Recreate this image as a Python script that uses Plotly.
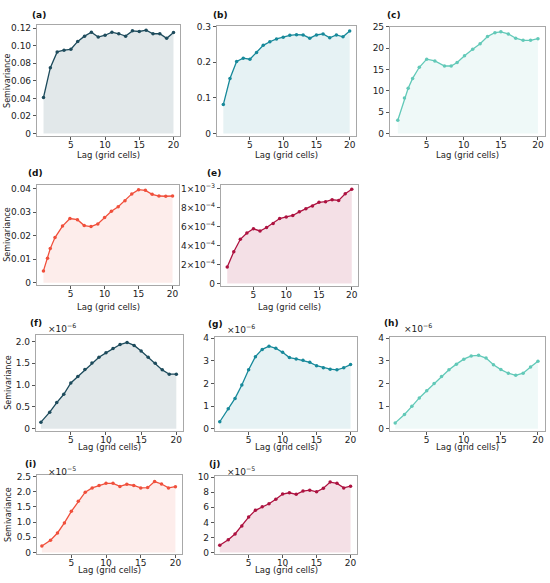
import plotly.graph_objects as go

W, H = 550, 583

# lags (grid cells)
lag = [1, 2, 3, 4, 5, 6, 7, 8, 9, 10, 11, 12, 13, 14, 15, 16, 17, 18, 19, 20]
lag_c = [1.1, 2.0, 2.5, 3.1, 4.0, 5.0, 6.1, 7.4, 8.3, 9.1, 10.1, 11.2, 12.2, 13.2, 14.2, 15.0, 16.0, 17.0, 18.0, 19.0, 20.0]
lag_d = [1.0, 1.6, 2.0, 2.7, 3.8, 4.9, 6.0, 7.0, 8.0, 9.0, 10.0, 11.0, 12.0, 13.0, 14.0, 15.0, 16.0, 17.0, 18.0, 19.0, 20.0]
lag_b = [0.75, 2, 3, 4, 5, 6, 7, 8, 9, 10, 11, 12, 13, 14, 15, 16, 17, 18, 19, 20]

# semivariance values
a_vals = [0.041, 0.075, 0.093, 0.095, 0.096, 0.105, 0.111, 0.1155, 0.110, 0.112,
          0.1155, 0.1137, 0.111, 0.117, 0.1163, 0.1178, 0.1137, 0.1137, 0.1085, 0.115]
b_vals = [0.081, 0.154, 0.202, 0.211, 0.208, 0.227, 0.247, 0.257, 0.265, 0.270,
          0.275, 0.277, 0.276, 0.267, 0.276, 0.279, 0.268, 0.276, 0.271, 0.287]
c_vals = [3.1, 8.3, 10.6, 12.9, 15.5, 17.4, 17.0, 15.8, 15.8, 16.6, 18.2,
          19.7, 21.0, 22.7, 23.6, 23.8, 23.3, 22.3, 21.8, 21.8, 22.2]
d_vals = [0.0050, 0.0104, 0.0145, 0.0192, 0.0241, 0.0273, 0.0268, 0.0243, 0.0239, 0.0250, 0.0277,
          0.0304, 0.0323, 0.0349, 0.0378, 0.0396, 0.0393, 0.0376, 0.0369, 0.0368, 0.0369]
e_vals = [1.75e-4, 3.37e-4, 4.68e-4, 5.35e-4, 5.79e-4, 5.56e-4, 5.93e-4, 6.36e-4, 6.87e-4, 7.04e-4,
          7.20e-4, 7.58e-4, 7.91e-4, 8.20e-4, 8.59e-4, 8.65e-4, 8.86e-4, 8.79e-4, 9.50e-4, 9.97e-4]
f_vals = [0.15, 0.38, 0.60, 0.79, 1.05, 1.20, 1.36, 1.51, 1.64, 1.74,
          1.84, 1.93, 1.98, 1.91, 1.78, 1.64, 1.50, 1.35, 1.25, 1.25]  # x1e-6
g_vals = [0.31, 0.88, 1.34, 1.93, 2.60, 3.18, 3.50, 3.64, 3.55, 3.37,
          3.14, 3.08, 3.02, 2.93, 2.78, 2.69, 2.63, 2.60, 2.69, 2.83]  # x1e-6
h_vals = [0.26, 0.63, 0.99, 1.36, 1.68, 2.00, 2.30, 2.60, 2.85, 3.07,
          3.21, 3.24, 3.12, 2.82, 2.61, 2.45, 2.36, 2.45, 2.72, 2.98]  # x1e-6
i_vals = [0.21, 0.40, 0.64, 0.97, 1.35, 1.68, 1.98, 2.12, 2.20, 2.27,
          2.27, 2.17, 2.24, 2.20, 2.12, 2.13, 2.33, 2.25, 2.12, 2.16]  # x1e-5
j_vals = [0.95, 1.68, 2.46, 3.53, 4.70, 5.60, 6.08, 6.47, 7.07, 7.76,
          7.93, 7.72, 8.15, 8.28, 8.06, 8.53, 9.35, 9.18, 8.58, 8.80]  # x1e-5

x_ticks = [5, 10, 15, 20]

navy = ('#1d4b5c', 'rgba(29,75,92,0.13)')
teal = ('#17899a', 'rgba(23,137,154,0.11)')
mint = ('#62c9b8', 'rgba(98,201,184,0.10)')
coral = ('#f0503c', 'rgba(240,80,60,0.10)')
wine = ('#ad1240', 'rgba(173,18,64,0.13)')

def sup(s):
    return '<sup>' + s + '</sup>'

# name, x, y, colours, (left, top, right, bottom) px, y ticks, tick text, y top, exponent label
panels = [
    ('a', lag, a_vals, navy, (37, 20, 180, 133), [0, 0.02, 0.04, 0.06, 0.08, 0.10, 0.12],
     ['0', '0.02', '0.04', '0.06', '0.08', '0.10', '0.12'], 0.124, None),
    ('b', lag, b_vals, teal, (217, 21, 356, 133), [0, 0.1, 0.2, 0.3],
     ['0', '0.1', '0.2', '0.3'], 0.302, None),
    ('c', lag_c, c_vals, mint, (390, 22, 545, 133), [0, 5, 10, 15, 20, 25],
     ['0', '5', '10', '15', '20', '25'], 25.0, None),
    ('d', lag_d, d_vals, coral, (37, 182, 179, 284), [0, 0.01, 0.02, 0.03, 0.04],
     ['0', '0.01', '0.02', '0.03', '0.04'], 0.0418, None),
    ('e', lag, e_vals, wine, (221, 182, 358, 285), [0, 2e-4, 4e-4, 6e-4, 8e-4, 1e-3],
     ['0', '2×10' + sup('−4'), '4×10' + sup('−4'), '6×10' + sup('−4'), '8×10' + sup('−4'), '1×10' + sup('−3')],
     1.047e-3, None),
    ('f', lag_b, f_vals, navy, (36, 335, 183, 432), [0, 0.5, 1.0, 1.5, 2.0],
     ['0', '0.5', '1.0', '1.5', '2.0'], 2.14, '−6'),
    ('g', lag_b, g_vals, teal, (215, 337, 357, 432), [0, 1, 2, 3, 4],
     ['0', '1', '2', '3', '4'], 4.03, '−6'),
    ('h', lag_b, h_vals, mint, (390, 337, 545, 432), [0, 1, 2, 3, 4],
     ['0', '1', '2', '3', '4'], 4.03, '−6'),
    ('i', lag_b, i_vals, coral, (37, 477, 182, 557), [0, 0.5, 1.0, 1.5, 2.0, 2.5],
     ['0', '0.5', '1.0', '1.5', '2.0', '2.5'], 2.53, '−5'),
    ('j', lag_b, j_vals, wine, (215, 478, 357, 557), [0, 2, 4, 6, 8, 10],
     ['0', '2', '4', '6', '8', '10'], 10.1, '−5'),
]

# panel label positions (px)
label_pos = {'a': (30, 10), 'b': (211, 10), 'c': (385, 10), 'd': (26, 170), 'e': (205, 170),
             'f': (28, 322), 'g': (206, 323), 'h': (382, 322), 'i': (23, 465), 'j': (207, 465)}
exp_pos = {'f': (46, 328), 'g': (225, 329), 'h': (402, 328), 'i': (46, 472), 'j': (225, 472)}
xlabel_y = {'a': 152, 'b': 152, 'c': 152, 'd': 306, 'e': 306,
            'f': 448, 'g': 448, 'h': 448, 'i': 573, 'j': 573}
ylabel_pos = {'a': (8, 77), 'd': (8, 233), 'f': (9, 383), 'i': (9, 517)}

font = 'DejaVu Sans'
fig = go.Figure()
annotations = []

for k, (name, xs, ys, (lc, fc), (l, t, r, b), tv, tt, ytop, expo) in enumerate(panels, start=1):
    sx = '' if k == 1 else str(k)
    fig.add_trace(go.Scatter(x=xs, y=ys, mode='lines+markers', fill='tozeroy', fillcolor=fc,
                             line=dict(color=lc, width=1.3), marker=dict(color=lc, size=3.5),
                             xaxis='x' + sx, yaxis='y' + sx, showlegend=False, hoverinfo='x+y'))
    axcommon = dict(showline=True, mirror=True, linecolor='#a8a8a8', linewidth=1.2,
                    ticks='outside', ticklen=3, tickcolor='#555', tickwidth=1,
                    showgrid=False, zeroline=False,
                    tickfont=dict(family=font, size=9, color='#222'))
    fig.layout['xaxis' + sx] = dict(axcommon, domain=[l / W, r / W], anchor='y' + sx,
                                    range=[0.05, 20.95], tickvals=x_ticks, ticklabelstandoff=-3)
    fig.layout['yaxis' + sx] = dict(axcommon, domain=[1 - b / H, 1 - t / H], anchor='x' + sx,
                                    range=[-0.025 * ytop, ytop], tickvals=tv, ticktext=tt)

    lx, ly = label_pos[name]
    annotations.append(dict(text='<b>(' + name + ')</b>', x=lx / W, y=1 - ly / H, xref='paper', yref='paper',
                            xanchor='left', yanchor='middle', showarrow=False,
                            font=dict(family=font, size=9, color='#111')))
    if expo:
        ex, ey = exp_pos[name]
        annotations.append(dict(text='×10' + sup(expo), x=ex / W, y=1 - ey / H, xref='paper', yref='paper',
                                xanchor='left', yanchor='middle', showarrow=False,
                                font=dict(family=font, size=9, color='#222')))
    annotations.append(dict(text='Lag (grid cells)', x=(l + r) / 2 / W, y=1 - xlabel_y[name] / H,
                            xref='paper', yref='paper', xanchor='center', yanchor='middle', showarrow=False,
                            font=dict(family=font, size=8.5, color='#222')))
    if name in ylabel_pos:
        yx, yy = ylabel_pos[name]
        annotations.append(dict(text='Semivariance', x=yx / W, y=1 - yy / H, xref='paper', yref='paper',
                                xanchor='center', yanchor='middle', textangle=-90, showarrow=False,
                                font=dict(family=font, size=8, color='#222')))

fig.update_layout(width=W, height=H, margin=dict(l=0, r=0, t=0, b=0),
                  paper_bgcolor='white', plot_bgcolor='white',
                  annotations=annotations, showlegend=False)

# the page's default body margin would push the figure 8px off
fig.write_html("out.html", config={'displayModeBar': False},
               post_script="document.body.style.margin='0';document.body.style.overflow='hidden';")
